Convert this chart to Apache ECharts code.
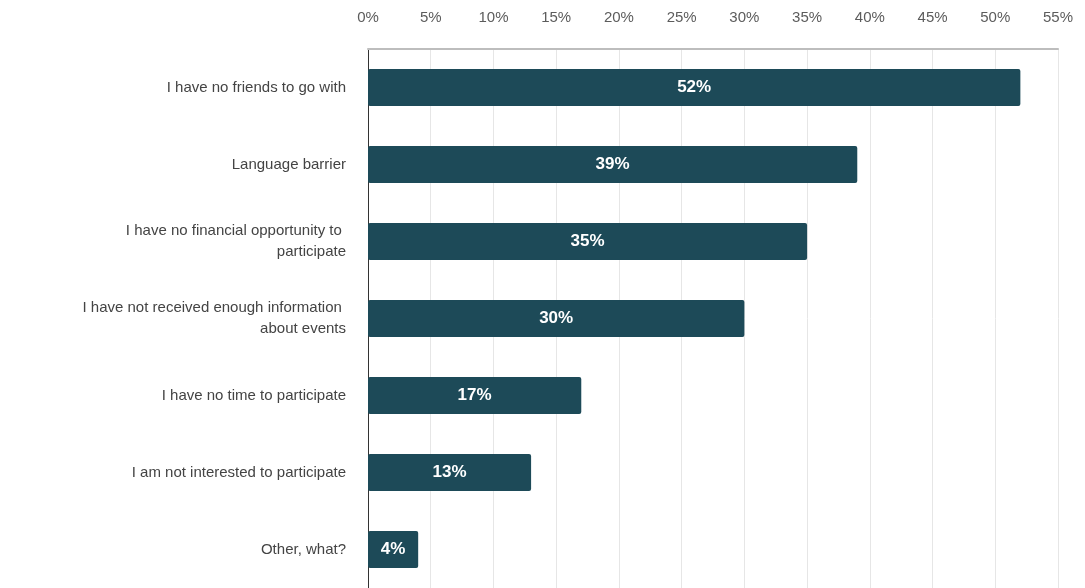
<!DOCTYPE html>
<html>
<head>
<meta charset="utf-8">
<style>
  html, body { margin: 0; padding: 0; background: #ffffff; }
  #chart { width: 1085px; height: 588px; }
</style>
<script src="https://cdn.jsdelivr.net/npm/echarts@6/dist/echarts.min.js"></script>
</head>
<body>
<div id="chart"></div>
<script>
// Reasons for not taking part in events (share of respondents, %)
const reasons = [
  'I have no friends to go with',
  'Language barrier',
  'I have no financial opportunity to \nparticipate',
  'I have not received enough information \nabout events',
  'I have no time to participate',
  'I am not interested to participate',
  'Other, what?'
];
const shares = [52, 39, 35, 30, 17, 13, 4];
const axisMax = 55;
const axisStep = 5;

const chart = echarts.init(document.getElementById('chart'), null, { renderer: 'canvas' });

chart.setOption({
  animation: false,
  backgroundColor: '#ffffff',
  grid: { left: 368, right: 27, top: 49, height: 541, containLabel: false },
  xAxis: {
    type: 'value',
    position: 'top',
    min: 0,
    max: axisMax,
    interval: axisStep,
    axisLine: { show: true, lineStyle: { color: '#bdbdbd', width: 2 } },
    axisTick: { show: false },
    axisLabel: {
      margin: 24,
      color: '#5c5c5c',
      fontSize: 15,
      fontFamily: 'Liberation Sans, Arial, sans-serif',
      formatter: v => v + '%'
    },
    splitLine: { show: true, lineStyle: { color: '#e6e6e6', width: 1 } }
  },
  yAxis: {
    type: 'category',
    inverse: true,
    data: reasons,
    axisLine: { show: true, lineStyle: { color: '#333333', width: 1 } },
    axisTick: { show: false },
    axisLabel: {
      margin: 22,
      color: '#444444',
      fontSize: 15,
      lineHeight: 21,
      align: 'right',
      fontFamily: 'Liberation Sans, Arial, sans-serif'
    }
  },
  series: [{
    type: 'bar',
    data: shares,
    barCategoryGap: '52%',
    itemStyle: { color: '#1d4a58', borderRadius: 2 },
    label: {
      show: true,
      position: 'inside',
      color: '#ffffff',
      fontSize: 17,
      fontWeight: 'bold',
      fontFamily: 'Liberation Sans, Arial, sans-serif',
      formatter: p => p.value + '%'
    }
  }]
});
</script>
</body>
</html>
